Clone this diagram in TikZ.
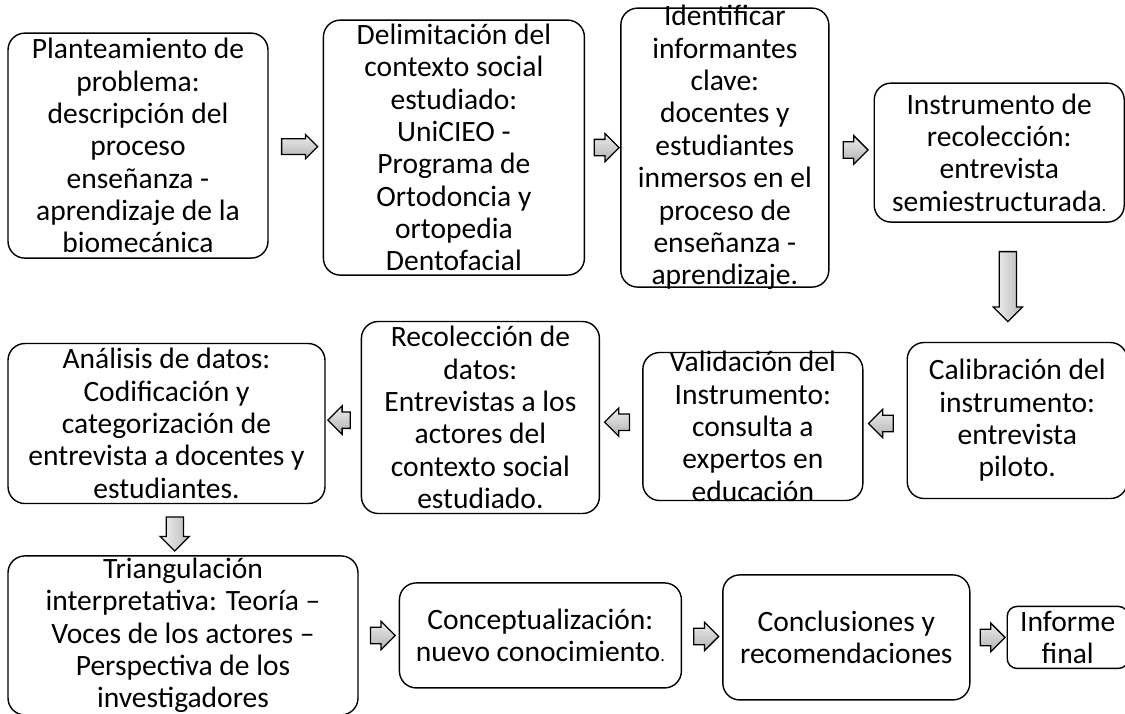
\documentclass[tikz,border=0pt]{standalone}
\usepackage{fontspec}
\setmainfont{Carlito}
\usepackage{tikz}
\usetikzlibrary{positioning,shapes.arrows}

\begin{document}
\begin{tikzpicture}[
      box/.style={draw, line width=1pt, rounded corners=12pt, align=center,
                  inner xsep=2pt, inner ysep=-8pt, font=\fontsize{21}{23}\selectfont},
      arr/.style={single arrow, draw, line width=0.9pt, single arrow head extend=0.15cm,
                  minimum height=0.62cm},
      rarr/.style={arr, inner xsep=0pt, inner ysep=0.19cm, top color=gray!15, bottom color=gray!60},
      larr/.style={rarr, shape border rotate=180},
      darr/.style={arr, inner xsep=0.2cm, inner ysep=0pt, shape border rotate=270,
                   left color=gray!10, right color=gray!55}
    ]
    \useasboundingbox (0,0) rectangle (28.125,-17.825);

    % first row
    \node[box, minimum width=6.5cm, minimum height=5.625cm] (b1) at (3.45,-3.64)
      {Planteamiento de\\problema:\\descripción del\\proceso\\enseñanza -\\aprendizaje de la\\biomecánica};
    \node[box, minimum width=6.525cm, minimum height=6.375cm] (b2) [right=1.35cm of b1, yshift=-0.05cm]
      {Delimitación del\\contexto social\\estudiado:\\UniCIEO -\\Programa de\\Ortodoncia y\\ortopedia\\Dentofacial};
    \node[box, minimum width=5.2cm, minimum height=6.975cm] (b3) [right=0.875cm of b2]
      {Identificar\\informantes\\clave:\\docentes y\\estudiantes\\inmersos en el\\proceso de\\enseñanza -\\aprendizaje.};
    \node[box, minimum width=6.25cm, minimum height=3.475cm] (b4) [right=1.1cm of b3, yshift=-0.125cm]
      {Instrumento de\\recolección:\\entrevista\\semiestructurada{\fontsize{13}{13}\selectfont .}};

    % second row
    \node[box, minimum width=5.5cm, minimum height=3.9cm] (b5) [below=2.975cm of b4, xshift=0.45cm]
      {Calibración del\\instrumento:\\entrevista\\piloto.};
    \node[box, minimum width=5.5cm, minimum height=3.7cm] (b6) [left=1.075cm of b5, yshift=-0.15cm]
      {Validación del\\Instrumento:\\consulta a\\expertos en\\educación};
    \node[box, minimum width=5.95cm, minimum height=4.8cm] (b7) [left=1.05cm of b6, yshift=0.225cm]
      {Recolección de\\datos:\\Entrevistas a los\\actores del\\contexto social\\estudiado.};
    \node[box, minimum width=7.925cm, minimum height=4cm] (b8) [left=0.875cm of b7, yshift=-0.15cm]
      {Análisis de datos:\\Codificación y\\categorización de\\entrevista a docentes y\\estudiantes.};

    % third row
    \node[box, minimum width=8.75cm, minimum height=3.975cm] (b9) [below right=1.275cm and 0cm of b8.south west]
      {Triangulación\\interpretativa: Teoría –\\Voces de los actores –\\Perspectiva de los\\investigadores};
    \node[box, minimum width=7.05cm, minimum height=2.625cm] (b10) [right=1cm of b9]
      {Conceptualización:\\nuevo conocimiento{\fontsize{13}{13}\selectfont .}};
    \node[box, minimum width=6.175cm, minimum height=3.125cm] (b11) [right=1cm of b10, yshift=-0.05cm]
      {Conclusiones y\\recomendaciones};
    \node[box, minimum width=3.025cm, minimum height=1.55cm, rounded corners=7pt] (b12) [right=0.9cm of b11]
      {Informe\\final};

    \path (b1) -- node[rarr, minimum height=0.9cm, inner ysep=0.18cm, single arrow head extend=0.11cm] (a1) {} (b2);
    \path (b2) -- node[rarr] (a2) {} (b3);
    \path (b3) -- node[rarr] (a3) {} (b4);
    \path (b4) -- node[darr, minimum height=1.75cm] (a4) {} (b5);
    \path (b5) -- node[larr] (a5) {} (b6);
    \path (b6) -- node[larr] (a6) {} (b7);
    \path (b7) -- node[larr, minimum height=0.56cm] (a7) {} (b8);
    \path (b8) -- node[darr, minimum height=0.85cm] (a8) {} (b9);
    \path (b9) -- node[rarr] (a9) {} (b10);
    \path (b10) -- node[rarr] (a10) {} (b11);
    \path (b11) -- node[rarr] (a11) {} (b12);
  \end{tikzpicture}
\end{document}
